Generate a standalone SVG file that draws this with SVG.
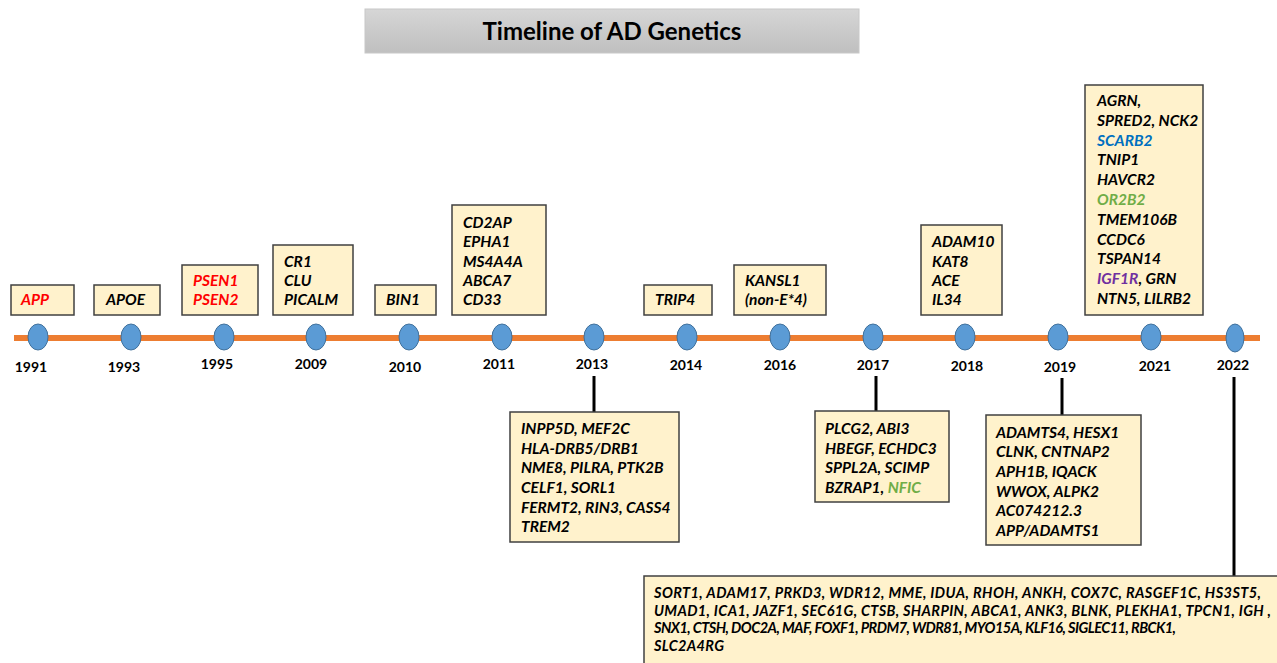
<svg xmlns="http://www.w3.org/2000/svg" width="1277" height="663" viewBox="0 0 1277 663">
<defs>
<linearGradient id="tg" x1="0" y1="0" x2="0" y2="1">
<stop offset="0" stop-color="#d6d6d6"/>
<stop offset="1" stop-color="#bfbfbf"/>
</linearGradient>
</defs>
<style>
.box{fill:#FFF2CC;stroke:#404040;stroke-width:1.5}
.t{font-family:Lato,"Liberation Sans",sans-serif;font-weight:bold;font-style:italic;font-size:15.5px;fill:#000}
.b{font-family:Lato,"Liberation Sans",sans-serif;font-weight:bold;font-style:italic;font-size:14.5px;fill:#000}
.yr{font-family:Lato,"Liberation Sans",sans-serif;font-weight:bold;font-size:14px;fill:#000;text-anchor:middle}
.dot{fill:#5B9BD5;stroke:#41719C;stroke-width:1}
.con{stroke:#000;stroke-width:3}
.red{fill:#FF0000}.blue{fill:#0070C0}.green{fill:#70AD47}.purple{fill:#7030A0}
</style>
<rect width="1277" height="663" fill="#fff"/>
<g id="title">
<rect x="365" y="9" width="494" height="44" fill="url(#tg)" stroke="#c8c8c8" stroke-width="1"/>
<text x="612" y="40" text-anchor="middle" style="font-family:Lato,'Liberation Sans',sans-serif;font-weight:bold;font-size:24px" fill="#000">Timeline of AD Genetics</text>
</g>
<g id="connectors">
<line x1="594" y1="376" x2="594" y2="412" class="con"/>
<line x1="876" y1="376" x2="876" y2="411" class="con"/>
<line x1="1062" y1="378" x2="1062" y2="415" class="con"/>
<line x1="1234" y1="377" x2="1234" y2="576" class="con"/>
</g>
<g id="timeline">
<line x1="14" y1="338" x2="1260" y2="338" stroke="#ED7D31" stroke-width="6"/>
</g>
<g id="y1991"><ellipse cx="38" cy="337" rx="10" ry="13" class="dot"/><text x="31" y="372" class="yr">1991</text></g>
<g id="y1993"><ellipse cx="131" cy="337" rx="10" ry="13" class="dot"/><text x="124" y="372" class="yr">1993</text></g>
<g id="y1995"><ellipse cx="224" cy="337" rx="10" ry="13" class="dot"/><text x="217" y="369" class="yr">1995</text></g>
<g id="y2009"><ellipse cx="316" cy="337" rx="10" ry="13" class="dot"/><text x="311" y="369" class="yr">2009</text></g>
<g id="y2010"><ellipse cx="409" cy="337" rx="10" ry="13" class="dot"/><text x="405" y="372" class="yr">2010</text></g>
<g id="y2011"><ellipse cx="502" cy="337" rx="10" ry="13" class="dot"/><text x="499" y="369" class="yr">2011</text></g>
<g id="y2013"><ellipse cx="594" cy="337" rx="10" ry="13" class="dot"/><text x="592" y="369" class="yr">2013</text></g>
<g id="y2014"><ellipse cx="687" cy="337" rx="10" ry="13" class="dot"/><text x="686" y="370" class="yr">2014</text></g>
<g id="y2016"><ellipse cx="780" cy="337" rx="10" ry="13" class="dot"/><text x="780" y="370" class="yr">2016</text></g>
<g id="y2017"><ellipse cx="873" cy="337" rx="10" ry="13" class="dot"/><text x="873" y="370" class="yr">2017</text></g>
<g id="y2018"><ellipse cx="965" cy="337" rx="10" ry="13" class="dot"/><text x="967" y="371" class="yr">2018</text></g>
<g id="y2019"><ellipse cx="1058" cy="337" rx="10" ry="13" class="dot"/><text x="1060" y="372" class="yr">2019</text></g>
<g id="y2021"><ellipse cx="1151" cy="337" rx="10" ry="13" class="dot"/><text x="1155" y="371" class="yr">2021</text></g>
<g id="y2022"><ellipse cx="1235" cy="338" rx="9" ry="14" class="dot"/><text x="1233" y="370" class="yr">2022</text></g>

<g id="b1991"><rect x="11" y="285" width="63" height="30" class="box"/><text x="21" y="305" class="t red">APP</text></g>
<g id="b1993"><rect x="94" y="285" width="66" height="30" class="box"/><text x="106" y="305" class="t">APOE</text></g>
<g id="b1995"><rect x="182" y="265" width="76" height="50" class="box"/><text x="193" y="286" class="t red">PSEN1</text><text x="193" y="305" class="t red">PSEN2</text></g>
<g id="b2009"><rect x="273" y="245" width="80" height="70" class="box"/><text x="284" y="267" class="t">CR1</text><text x="284" y="286" class="t">CLU</text><text x="284" y="305" class="t">PICALM</text></g>
<g id="b2010"><rect x="375" y="285" width="61" height="30" class="box"/><text x="386" y="305" class="t">BIN1</text></g>
<g id="b2011"><rect x="452" y="205" width="94" height="110" class="box"/><text x="463" y="228" class="t">CD2AP</text><text x="463" y="247" class="t">EPHA1</text><text x="463" y="267" class="t">MS4A4A</text><text x="463" y="286" class="t">ABCA7</text><text x="463" y="305" class="t">CD33</text></g>
<g id="b2014"><rect x="644" y="285" width="68" height="30" class="box"/><text x="655" y="305" class="t">TRIP4</text></g>
<g id="b2016"><rect x="734" y="265" width="92" height="50" class="box"/><text x="745" y="286" class="t">KANSL1</text><text x="745" y="305" class="t">(non-E*4)</text></g>
<g id="b2018"><rect x="921" y="225" width="81" height="90" class="box"/><text x="932" y="247" class="t">ADAM10</text><text x="932" y="267" class="t">KAT8</text><text x="932" y="286" class="t">ACE</text><text x="932" y="305" class="t">IL34</text></g>
<g id="b2021"><rect x="1085" y="85" width="118" height="230" class="box"/>
<text x="1097" y="106" class="t">AGRN,</text>
<text x="1097" y="125.8" class="t">SPRED2, NCK2</text>
<text x="1097" y="145.6" class="t blue">SCARB2</text>
<text x="1097" y="165.4" class="t">TNIP1</text>
<text x="1097" y="185.2" class="t">HAVCR2</text>
<text x="1097" y="205" class="t green">OR2B2</text>
<text x="1097" y="224.8" class="t">TMEM106B</text>
<text x="1097" y="244.6" class="t">CCDC6</text>
<text x="1097" y="264.4" class="t">TSPAN14</text>
<text x="1097" y="284.2" class="t"><tspan class="purple">IGF1R</tspan>, GRN</text>
<text x="1097" y="304" class="t">NTN5, LILRB2</text>
</g>
<g id="b2013"><rect x="510" y="412" width="169" height="130" class="box"/>
<text x="521" y="434" class="t">INPP5D, MEF2C</text>
<text x="521" y="454" class="t">HLA-DRB5/DRB1</text>
<text x="521" y="473" class="t">NME8, PILRA, PTK2B</text>
<text x="521" y="493" class="t">CELF1, SORL1</text>
<text x="521" y="513" class="t">FERMT2, RIN3, CASS4</text>
<text x="521" y="532" class="t">TREM2</text>
</g>
<g id="b2017"><rect x="815" y="411" width="134" height="91" class="box"/>
<text x="825" y="434" class="t">PLCG2, ABI3</text>
<text x="825" y="454" class="t">HBEGF, ECHDC3</text>
<text x="825" y="473" class="t">SPPL2A, SCIMP</text>
<text x="825" y="493" class="t">BZRAP1, <tspan class="green">NFIC</tspan></text>
</g>
<g id="b2019"><rect x="986" y="415" width="155" height="130" class="box"/>
<text x="996" y="438" class="t">ADAMTS4, HESX1</text>
<text x="996" y="457" class="t">CLNK, CNTNAP2</text>
<text x="996" y="477" class="t">APH1B, IQACK</text>
<text x="996" y="497" class="t">WWOX, ALPK2</text>
<text x="996" y="516" class="t">AC074212.3</text>
<text x="996" y="536" class="t">APP/ADAMTS1</text>
</g>
<g id="b2022"><rect x="644" y="576" width="640" height="100" class="box"/>
<text x="654" y="598" class="b" textLength="607" lengthAdjust="spacing">SORT1, ADAM17, PRKD3, WDR12, MME, IDUA, RHOH, ANKH, COX7C, RASGEF1C, HS3ST5,</text>
<text x="654" y="616" class="b" textLength="617" lengthAdjust="spacing">UMAD1, ICA1, JAZF1, SEC61G, CTSB, SHARPIN, ABCA1, ANK3, BLNK, PLEKHA1, TPCN1, IGH ,</text>
<text x="654" y="633" class="b" textLength="522" lengthAdjust="spacing">SNX1, CTSH, DOC2A,  MAF, FOXF1, PRDM7, WDR81, MYO15A, KLF16, SIGLEC11, RBCK1,</text>
<text x="654" y="651" class="b" textLength="70" lengthAdjust="spacing">SLC2A4RG</text>
</g>
</svg>
